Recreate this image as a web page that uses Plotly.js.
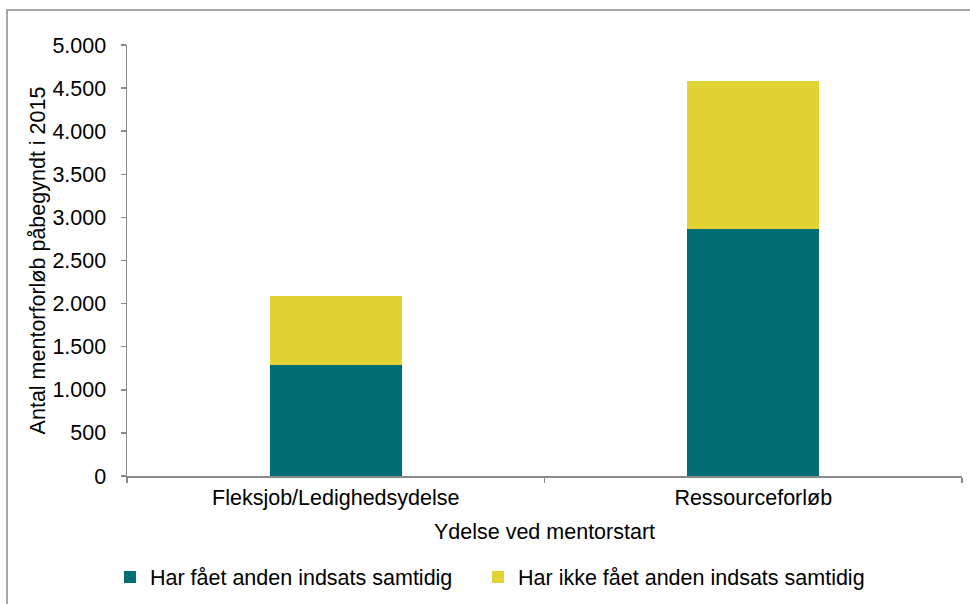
<!DOCTYPE html>
<html>
<head>
<meta charset="utf-8">
<script src="https://cdn.plot.ly/plotly-3.0.1.min.js"></script>
<style>html,body{margin:0;padding:0;background:#fff;}#chart{width:970px;height:604px;}</style>
</head>
<body>
<div id="chart"></div>
<script>
const categories = ["Fleksjob/Ledighedsydelse", "Ressourceforløb"];
const seriesNames = ["Har fået anden indsats samtidig", "Har ikke fået anden indsats samtidig"];
const withOther = [1290, 2860];
const withoutOther = [800, 1725];
const yTickVals = [0, 500, 1000, 1500, 2000, 2500, 3000, 3500, 4000, 4500, 5000];
const yTickText = ["0", "500", "1.000", "1.500", "2.000", "2.500", "3.000", "3.500", "4.000", "4.500", "5.000"];

const font = {family: "'Liberation Sans', Arial, sans-serif", size: 21.5, color: "#000"};
const axisGray = "#898989";

const traces = [
  {type: "bar", name: seriesNames[0], x: categories, y: withOther, marker: {color: "#006E72"}, hoverinfo: "none", legend: "legend"},
  {type: "bar", name: seriesNames[1], x: categories, y: withoutOther, marker: {color: "#E1D333"}, hoverinfo: "none", legend: "legend2"}
];

const legendBase = {orientation: "h", xanchor: "left", y: -0.2315, yanchor: "middle",
                    font: font, bgcolor: "rgba(0,0,0,0)"};

const layout = {
  width: 970, height: 604,
  margin: {l: 127, r: 8, t: 45, b: 127},
  barmode: "stack",
  bargap: 0.684,
  paper_bgcolor: "#fff", plot_bgcolor: "#fff",
  font: font,
  showlegend: true,
  legend: Object.assign({}, legendBase, {x: -0.0204}),
  legend2: Object.assign({}, legendBase, {x: 0.4204}),
  xaxis: {
    type: "category", showline: true, linecolor: axisGray, linewidth: 1.5,
    ticks: "outside", tickson: "boundaries", ticklen: 5, tickcolor: axisGray, tickwidth: 1.5,
    ticklabelstandoff: 2,
    showgrid: false, zeroline: false, tickfont: font,
    title: {text: "Ydelse ved mentorstart", font: font, standoff: 14}
  },
  yaxis: {
    range: [0, 5000], tickvals: yTickVals, ticktext: yTickText,
    showline: true, linecolor: axisGray, linewidth: 1.5,
    ticks: "outside", ticklen: 5, tickcolor: axisGray, tickwidth: 1.5,
    ticklabelstandoff: 10,
    showgrid: false, zeroline: false, tickfont: font,
    title: {text: "Antal mentorforløb påbegyndt i 2015", font: font, standoff: 1}
  },
  shapes: [
    {type: "rect", xref: "paper", yref: "paper", x0: -0.1437, x1: 1.05, y0: -0.32, y1: 1.081,
     line: {color: "#8c8c8c", width: 1.5}, fillcolor: "rgba(0,0,0,0)", layer: "below"}
  ]
};

Plotly.newPlot("chart", traces, layout, {displayModeBar: false, staticPlot: true});
</script>
</body>
</html>
